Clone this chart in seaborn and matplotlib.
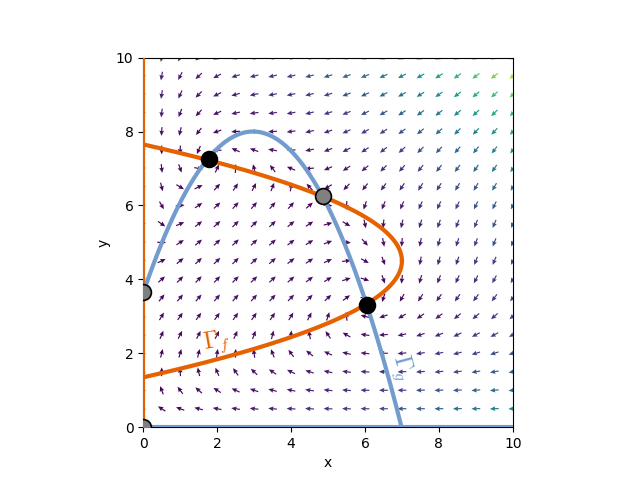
import numpy as np
import pandas as pd
import matplotlib
matplotlib.use("Agg")
import matplotlib.pyplot as plt
import seaborn as sns

# ---- model parameters ----
# Gamma_f : x = F_C - F_K * (y - F_Y0)^2   (plus x = 0)
F_C, F_K, F_Y0 = 7.0, 0.705, 4.5
# Gamma_g : y = G_C - G_K * (x - G_X0)^2   (plus y = 0)
G_C, G_K, G_X0 = 8.0, 0.495, 2.97
RATE_F, RATE_G = 1.0, 0.7

# equilibria
stable_x = [1.77, 6.05]
stable_y = [7.25, 3.31]
unstable_x = [0.0, 0.0, 4.87]
unstable_y = [0.0, 3.65, 6.25]

grid_vals = np.arange(0, 10.01, 0.5)
ticks = [0, 2, 4, 6, 8, 10]

plt.rcParams['mathtext.fontset'] = 'cm'
fig, ax = plt.subplots(figsize=(6.4, 4.8), dpi=100)

X, Y = np.meshgrid(grid_vals, grid_vals)
U = RATE_F * X * (F_C - X - F_K * (Y - F_Y0) ** 2)
V = RATE_G * Y * (G_C - Y - G_K * (X - G_X0) ** 2)
M = np.hypot(U, V)
Ms = np.where(M == 0, 1, M)
ax.quiver(X, Y, U / Ms, V / Ms, M, cmap='viridis', angles='xy',
          scale_units='xy', scale=4.2, pivot='mid', width=0.0032,
          headwidth=4, headlength=4.5, headaxislength=4, zorder=1)

orange = '#e66100'
blue = '#729bce'

yy = np.linspace(F_Y0 - np.sqrt(F_C / F_K), F_Y0 + np.sqrt(F_C / F_K), 300)
df_f = pd.DataFrame({'x': F_C - F_K * (yy - F_Y0) ** 2, 'y': yy})
sns.lineplot(data=df_f, x='x', y='y', sort=False, estimator=None, color=orange,
             lw=3, ax=ax, zorder=3)
ax.plot([0, 0], [0, 10], color=orange, lw=3, zorder=3)

xx = np.linspace(0, G_X0 + np.sqrt(G_C / G_K), 300)
df_g = pd.DataFrame({'x': xx, 'y': G_C - G_K * (xx - G_X0) ** 2})
sns.lineplot(data=df_g, x='x', y='y', sort=False, estimator=None, color=blue,
             lw=3, ax=ax, zorder=3)
ax.plot([0, 10], [0, 0], color=blue, lw=3, zorder=3)

sns.scatterplot(x=stable_x, y=stable_y, color='black', edgecolor='black',
                s=130, linewidth=1.2, ax=ax, zorder=5)
sns.scatterplot(x=unstable_x, y=unstable_y, color='gray', edgecolor='black',
                s=130, linewidth=1.2, ax=ax, zorder=5)

ax.text(2.0, 2.3, r'$\Gamma_f$', color=orange, fontsize=17, rotation=10,
        ha='center', va='center')
ax.text(7.0, 1.6, r'$\Gamma_g$', color=blue, fontsize=17, rotation=-75,
        ha='center', va='center')

ax.set_xlim(0, 10)
ax.set_ylim(0, 10)
ax.set_xticks(ticks)
ax.set_yticks(ticks)
ax.set_aspect('equal')
ax.set_xlabel('x')
ax.set_ylabel('y')
fig.savefig('out.png', dpi=100)
